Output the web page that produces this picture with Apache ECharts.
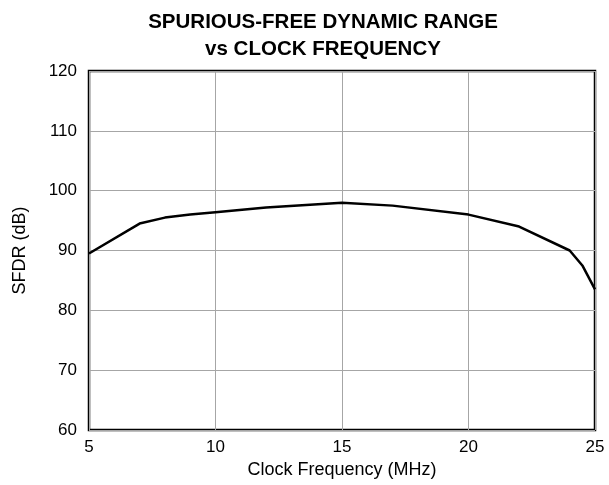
<!DOCTYPE html>
<html>
<head>
<meta charset="utf-8">
<script src="https://cdn.jsdelivr.net/npm/echarts@6/dist/echarts.min.js"></script>
<style>
  html, body { margin: 0; padding: 0; background: #fff; }
</style>
</head>
<body>
<div id="box" style="width:609px;height:485px;"></div>
<script>
// clock frequency (MHz) and SFDR (dB)
const clockMHz = [5, 7, 8, 9, 10, 12, 15, 17, 20, 22, 24, 24.5, 25];
const sfdrDb = [89.5, 94.5, 95.5, 96, 96.4, 97.2, 98, 97.5, 96, 94, 90, 87.5, 83.5];

const myChart = echarts.init(document.getElementById("box"));
const font = "Liberation Sans, Arial, sans-serif";
const option = {
  animation: false,
  title: {
    text: "SPURIOUS-FREE DYNAMIC RANGE\nvs CLOCK FREQUENCY",
    left: 318,
    textAlign: "center",
    top: 4,
    textStyle: {
      fontFamily: font,
      fontSize: 20.5,
      fontWeight: "bold",
      color: "#000",
      lineHeight: 27
    }
  },
  grid: {
    left: 89,
    top: 71,
    right: 14,
    bottom: 55,
    show: true,
    borderColor: "#000",
    borderWidth: 2.5
  },
  xAxis: {
    type: "value",
    min: 5,
    max: 25,
    interval: 5,
    name: "Clock Frequency (MHz)",
    nameLocation: "middle",
    nameGap: 30,
    nameTextStyle: { fontFamily: font, fontSize: 18, color: "#000" },
    axisLine: { show: false },
    axisTick: { show: false },
    axisLabel: { fontFamily: font, fontSize: 17, color: "#000", margin: 9 },
    splitLine: { show: true, lineStyle: { color: "#a6a6a6", width: 1 } }
  },
  yAxis: {
    type: "value",
    min: 60,
    max: 120,
    interval: 10,
    name: "SFDR (dB)",
    nameLocation: "middle",
    nameGap: 60,
    nameTextStyle: { fontFamily: font, fontSize: 18, color: "#000" },
    axisLine: { show: false },
    axisTick: { show: false },
    axisLabel: { fontFamily: font, fontSize: 17, color: "#000", margin: 12 },
    splitLine: { show: true, lineStyle: { color: "#a6a6a6", width: 1 } }
  },
  series: [
    {
      type: "line",
      data: clockMHz.map((x, i) => [x, sfdrDb[i]]),
      showSymbol: false,
      lineStyle: { color: "#000", width: 2.5 }
    }
  ]
};
myChart.setOption(option);
</script>
</body>
</html>
